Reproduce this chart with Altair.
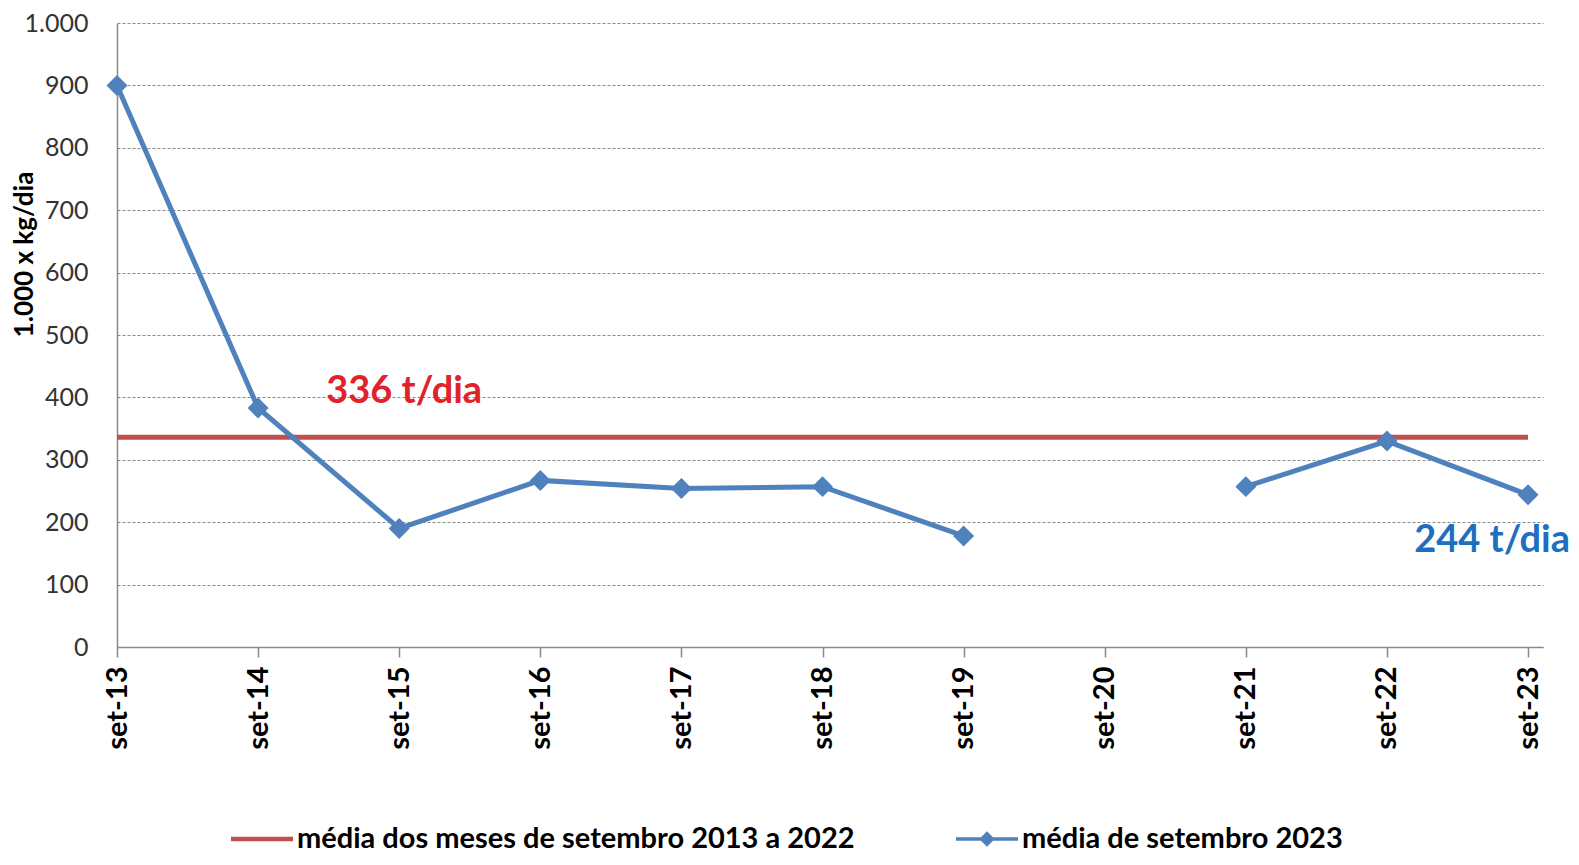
import json
import altair as alt
import pandas as pd

labels = ["set-13", "set-14", "set-15", "set-16", "set-17", "set-18",
          "set-19", "set-20", "set-21", "set-22", "set-23"]
media_2023 = [900, 383, 190, 267, 254, 257, 178, None, 257, 330, 244]
media_hist = [336, 336, 336, 336, 336, 336, 336, 336, 336, 336, 336]
series_names = ["média dos meses de setembro 2013 a 2022", "média de setembro 2023"]
series_colors = ["#C0504D", "#4F81BD"]

RED_TXT = "#E0222B"
BLUE_TXT = "#1F6FC0"
FONT = "Lato"

idx = list(range(len(labels)))
df_blue = pd.DataFrame({"idx": idx, "label": labels, "value": media_2023})
df_red = pd.DataFrame({"idx": idx, "label": labels, "value": media_hist})
df_ann_red = pd.DataFrame({"idx": [2], "value": [media_hist[2]], "txt": [f"{media_hist[2]} t/dia"]})
df_ann_blue = pd.DataFrame({"idx": [10], "value": [media_2023[10]], "txt": [f"{media_2023[10]} t/dia"]})
df_leg = pd.DataFrame({"serie": series_names})

x_enc = alt.X(
    "idx:Q",
    scale=alt.Scale(domain=[0, 10.106], nice=False, zero=False),
    axis=alt.Axis(
        values=idx,
        labelExpr=f"{json.dumps(labels)}[datum.value]",
        labelAngle=270,
        labelFont=FONT, labelFontSize=29, labelFontWeight="bold", labelColor="#000000",
        labelPadding=9, tickSize=10, tickColor="#8a8a8a", tickWidth=1.5,
        domainColor="#8a8a8a", domainWidth=1.5, grid=False, title=None,
    ),
)
y_enc = alt.Y(
    "value:Q",
    scale=alt.Scale(domain=[0, 1000], nice=False),
    axis=alt.Axis(
        values=list(range(0, 1001, 100)),
        labelExpr="replace(format(datum.value, ','), ',', '.')",
        labelFont=FONT, labelFontSize=25, labelColor="#333333", labelPadding=29,
        ticks=False, domainColor="#8a8a8a", domainWidth=1.5,
        grid=True, gridColor="#8a8a8a", gridDash=[3, 2], gridWidth=1,
        title="1.000 x kg/dia", titleFont=FONT, titleFontSize=26, titleFontWeight="bold",
        titleColor="#000000", titleAngle=270, titleX=-93, titleY=231,
        titleAlign="center", titleBaseline="middle",
    ),
)

red_line = alt.Chart(df_red).mark_line(color=series_colors[0], strokeWidth=5).encode(x=x_enc, y=y_enc)
blue_line = alt.Chart(df_blue).mark_line(
    color=series_colors[1], strokeWidth=5, invalid="break-paths-filter-domains"
).encode(x=x_enc, y=y_enc)
blue_pts = alt.Chart(df_blue).transform_filter("isValid(datum.value)").mark_point(
    shape="diamond", filled=True, size=440, opacity=1, color=series_colors[1]
).encode(x=x_enc, y=y_enc)

ann_red = alt.Chart(df_ann_red).mark_text(
    font=FONT, fontSize=38, fontWeight="bold", color=RED_TXT, dy=-45, dx=5, baseline="middle"
).encode(x=x_enc, y=y_enc, text="txt:N")
ann_blue = alt.Chart(df_ann_blue).mark_text(
    font=FONT, fontSize=38, fontWeight="bold", color=BLUE_TXT, dy=46, dx=42,
    align="right", baseline="middle"
).encode(x=x_enc, y=y_enc, text="txt:N")

red_path = "M-1,-0.07 L1,-0.07 L1,0.07 L-1,0.07 Z"
blue_path = "M-1,-0.06 L1,-0.06 L1,0.06 L-1,0.06 Z M0,-0.25 L0.25,0 L0,0.25 L-0.25,0 Z"

legend_layer = alt.Chart(df_leg).transform_filter("false").mark_point(filled=True, opacity=1).encode(
    color=alt.Color(
        "serie:N",
        scale=alt.Scale(domain=series_names, range=series_colors),
        legend=alt.Legend(
            orient="none", legendX=113, legendY=784, direction="horizontal", title=None,
            labelFont=FONT, labelFontSize=29, labelFontWeight="bold", labelColor="#000000",
            symbolSize=3844, columnPadding=98, labelOffset=3, symbolOpacity=1,
            labelLimit=1000,
        ),
    ),
    shape=alt.Shape("serie:N", scale=alt.Scale(domain=series_names, range=[red_path, blue_path])),
)

chart = alt.layer(red_line, blue_line, blue_pts, ann_red, ann_blue, legend_layer).properties(
    width=1426, height=624,
    autosize=alt.AutoSizeParams(type="none"),
    padding={"left": 109, "top": 15, "right": 28, "bottom": 210},
    background="white",
).configure_view(stroke=None)

chart.save("out.html", embed_options={"renderer": "svg", "actions": False})
